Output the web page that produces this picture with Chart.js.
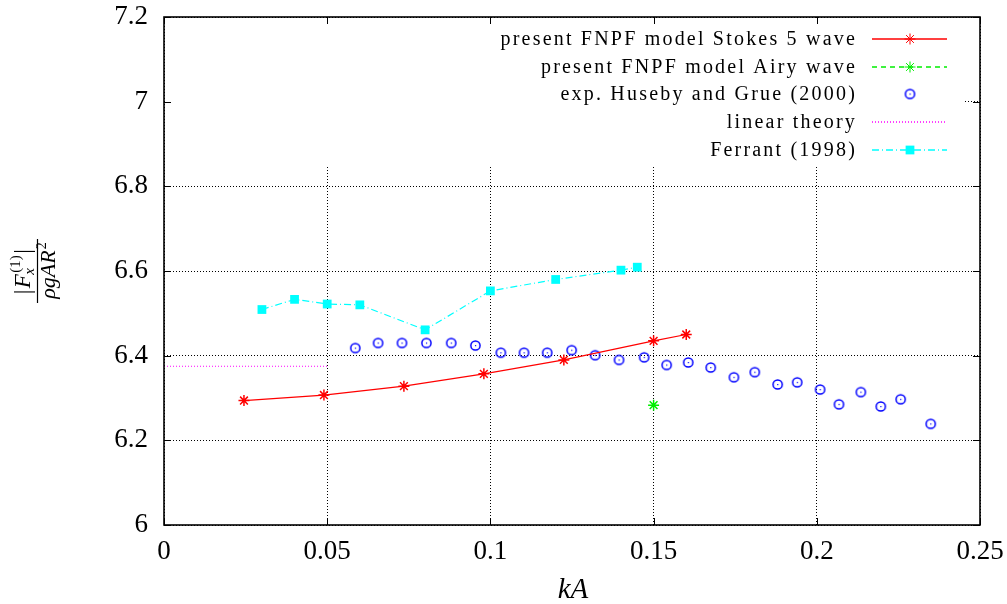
<!DOCTYPE html>
<html>
<head>
<meta charset="utf-8">
<script src="https://cdn.jsdelivr.net/npm/chart.js@4.4.0/dist/chart.umd.min.js"></script>
<style>
  body { margin: 0; background: #fff; }
  #wrap { width: 1007px; height: 604px; }
</style>
</head>
<body>
<div id="wrap"><canvas id="chart" width="1007" height="604"></canvas></div>
<script>
// axis ticks
const xTicks = [0, 0.05, 0.1, 0.15, 0.2, 0.25];
const xTickLabels = ['0', '0.05', '0.1', '0.15', '0.2', '0.25'];
const yTicks = [6, 6.2, 6.4, 6.6, 6.8, 7, 7.2];
const yTickLabels = ['6', '6.2', '6.4', '6.6', '6.8', '7', '7.2'];

// present FNPF model Stokes 5 wave
const stokesKA = [0.0245, 0.049, 0.0735, 0.098, 0.1225, 0.15, 0.16];
const stokesF = [6.294, 6.307, 6.328, 6.357, 6.390, 6.435, 6.450];

// present FNPF model Airy wave
const airyKA = [0.15];
const airyF = [6.283];

// exp. Huseby and Grue (2000)
const husebyKA = [0.0586, 0.0656, 0.0729, 0.0804, 0.0880, 0.0954, 0.1032, 0.1103, 0.1174, 0.1249,
                  0.1321, 0.1394, 0.1471, 0.1540, 0.1606, 0.1675, 0.1746, 0.1810, 0.1880, 0.1940,
                  0.2010, 0.2068, 0.2135, 0.2196, 0.2257, 0.2349];
const husebyF = [6.418, 6.430, 6.430, 6.430, 6.430, 6.424, 6.407, 6.407, 6.407, 6.413,
                 6.401, 6.390, 6.396, 6.378, 6.384, 6.372, 6.349, 6.361, 6.332, 6.337,
                 6.320, 6.285, 6.314, 6.280, 6.297, 6.239];

// linear theory
const linearKA = [0, 0.05];
const linearF = [6.375, 6.375];

// Ferrant (1998)
const ferrantKA = [0.03, 0.04, 0.05, 0.06, 0.08, 0.1, 0.12, 0.14, 0.145];
const ferrantF = [6.509, 6.533, 6.522, 6.520, 6.461, 6.553, 6.580, 6.602, 6.609];

const seriesColors = ['#ff0000', '#00ee00', '#0000ff', '#ff00ff', '#00ffff'];

const toPoints = (xs, ys) => xs.map((x, i) => ({ x, y: ys[i] }));

// gnuplot style circle with a dot in the middle
const circleDot = document.createElement('canvas');
circleDot.width = 13;
circleDot.height = 13;
(() => {
    const c = circleDot.getContext('2d');
    c.strokeStyle = seriesColors[2];
    c.fillStyle = seriesColors[2];
    c.lineWidth = 1.5;
    c.beginPath();
    c.arc(6.5, 6.5, 4.6, 0, Math.PI * 2);
    c.stroke();
    c.fillRect(6, 6, 1.2, 1.2);
})();

const datasets = [
    {
        label: 'present FNPF model Stokes 5 wave',
        data: toPoints(stokesKA, stokesF),
        showLine: true,
        borderColor: seriesColors[0],
        backgroundColor: seriesColors[0],
        borderWidth: 1.2,
        pointStyle: 'star',
        pointRadius: 5.5,
        pointBorderWidth: 1.5
    },
    {
        label: 'present FNPF model Airy wave',
        data: toPoints(airyKA, airyF),
        showLine: true,
        borderColor: seriesColors[1],
        backgroundColor: seriesColors[1],
        borderWidth: 1.2,
        borderDash: [5, 4],
        pointStyle: 'star',
        pointRadius: 5.5,
        pointBorderWidth: 1.5
    },
    {
        label: 'exp. Huseby and Grue (2000)',
        data: toPoints(husebyKA, husebyF),
        showLine: false,
        borderColor: seriesColors[2],
        backgroundColor: seriesColors[2],
        pointStyle: circleDot
    },
    {
        label: 'linear theory',
        data: toPoints(linearKA, linearF),
        showLine: true,
        borderColor: seriesColors[3],
        backgroundColor: seriesColors[3],
        borderWidth: 1,
        borderDash: [1, 2],
        pointRadius: 0
    },
    {
        label: 'Ferrant (1998)',
        data: toPoints(ferrantKA, ferrantF),
        showLine: true,
        borderColor: seriesColors[4],
        backgroundColor: seriesColors[4],
        borderWidth: 1.2,
        borderDash: [7, 3, 1, 3],
        pointStyle: 'rect',
        pointRadius: 6.2,
        pointBorderWidth: 0
    }
];

// white key box, frame, inward ticks, key and axis titles
const gnuplotFrame = {
    id: 'gnuplotFrame',
    afterDatasetsDraw(chart) {
        const ctx = chart.ctx;
        const area = chart.chartArea;
        const xs = chart.scales.x;
        const ys = chart.scales.y;
        ctx.save();

        // key box hides the grid behind it
        ctx.fillStyle = '#fff';
        ctx.fillRect(area.left + 1, area.top + 1, 963 - area.left, 164 - area.top);

        // frame
        ctx.strokeStyle = '#000';
        ctx.lineWidth = 1.6;
        ctx.strokeRect(area.left, area.top, area.right - area.left, area.bottom - area.top);

        // inward ticks on all four sides
        ctx.lineWidth = 1;
        ctx.beginPath();
        xTicks.forEach(v => {
            const px = Math.round(xs.getPixelForValue(v)) + 0.5;
            ctx.moveTo(px, area.bottom); ctx.lineTo(px, area.bottom - 7);
            ctx.moveTo(px, area.top); ctx.lineTo(px, area.top + 7);
        });
        yTicks.forEach(v => {
            const py = Math.round(ys.getPixelForValue(v)) + 0.5;
            ctx.moveTo(area.left, py); ctx.lineTo(area.left + 7, py);
            ctx.moveTo(area.right, py); ctx.lineTo(area.right - 7, py);
        });
        ctx.stroke();

        // key
        const rowY = [39, 67, 94, 122, 150];
        chart.data.datasets.forEach((ds, i) => {
            const y = rowY[i];
            ctx.save();
            ctx.fillStyle = '#000';
            ctx.font = '20px "Liberation Serif"';
            ctx.letterSpacing = '2.2px';
            ctx.textAlign = 'right';
            ctx.textBaseline = 'middle';
            ctx.fillText(ds.label, 857, y + 1);
            ctx.restore();
            if (ds.showLine) {
                ctx.save();
                ctx.strokeStyle = seriesColors[i];
                ctx.lineWidth = 1.5;
                ctx.setLineDash(ds.borderDash || []);
                ctx.beginPath();
                ctx.moveTo(872, y);
                ctx.lineTo(947, y);
                ctx.stroke();
                ctx.restore();
            }
            if (ds.pointRadius !== 0) {
                ctx.save();
                ctx.setLineDash([]);
                ctx.strokeStyle = seriesColors[i];
                ctx.fillStyle = seriesColors[i];
                Chart.helpers.drawPoint(ctx, {
                    pointStyle: ds.pointStyle,
                    rotation: 0,
                    radius: ds.pointRadius || 5,
                    borderWidth: ds.pointBorderWidth === undefined ? 1 : ds.pointBorderWidth
                }, 910, y);
                ctx.restore();
            }
        });

        // x title
        ctx.fillStyle = '#000';
        ctx.textAlign = 'center';
        ctx.textBaseline = 'alphabetic';
        ctx.font = 'italic 29px "Liberation Serif"';
        ctx.fillText('kA', 573, 598);

        // y title: |F_x^(1)| / (rho g A R^2), rotated
        ctx.strokeStyle = '#000';
        ctx.translate(37, 271);
        ctx.rotate(-Math.PI / 2);
        ctx.lineWidth = 1.2;
        ctx.beginPath();
        ctx.moveTo(-32, 0.5);
        ctx.lineTo(32, 0.5);
        ctx.stroke();

        const parts = [
            { t: '|', f: '23px "Liberation Serif"', dy: 0 },
            { t: 'F', f: 'italic 23px "Liberation Serif"', dy: 0 },
            { t: '(1)', f: '15px "Liberation Serif"', dy: -10, sub: 'x' },
            { t: '|', f: '23px "Liberation Serif"', dy: 0 }
        ];
        ctx.textAlign = 'left';
        let w = 0;
        parts.forEach(p => { ctx.font = p.f; p.w = ctx.measureText(p.t).width + 1.5; w += p.w; });
        let cx = -w / 2;
        const baseN = -7;
        parts.forEach(p => {
            ctx.font = p.f;
            ctx.fillText(p.t, cx, baseN + p.dy);
            if (p.sub) {
                ctx.font = 'italic 15px "Liberation Serif"';
                ctx.fillText(p.sub, cx - 2, baseN + 4);
            }
            cx += p.w;
        });

        ctx.font = 'italic 22px "Liberation Serif"';
        const den = '\u03C1gAR';
        const dw = ctx.measureText(den).width;
        ctx.font = '14px "Liberation Serif"';
        const sw = ctx.measureText('2').width;
        const dx = -(dw + sw) / 2;
        ctx.font = 'italic 22px "Liberation Serif"';
        ctx.fillText(den, dx, 18);
        ctx.font = '14px "Liberation Serif"';
        ctx.fillText('2', dx + dw + 1, 9);

        ctx.restore();
    }
};

new Chart(document.getElementById('chart'), {
    type: 'scatter',
    data: { datasets },
    options: {
        responsive: false,
        animation: false,
        events: [],
        layout: { padding: { top: 17, right: 27, left: 0, bottom: 0 } },
        plugins: {
            legend: { display: false },
            tooltip: { enabled: false }
        },
        scales: {
            x: {
                type: 'linear',
                min: 0,
                max: 0.25,
                afterBuildTicks: s => { s.ticks = xTicks.map(v => ({ value: v })); },
                afterFit: s => {
                    s.height = 79;
                    s.paddingLeft = 0;
                    s.paddingRight = 0;
                },
                ticks: {
                    callback: (v, i) => xTickLabels[i],
                    color: '#000',
                    font: { family: 'Liberation Serif', size: 27 },
                    padding: 11,
                    maxRotation: 0
                },
                grid: { color: '#000', lineWidth: 1, drawTicks: false },
                border: { display: false, dash: [1, 2] }
            },
            y: {
                type: 'linear',
                min: 6,
                max: 7.2,
                afterBuildTicks: s => { s.ticks = yTicks.map(v => ({ value: v })); },
                afterFit: s => {
                    s.width = 164;
                    s.paddingTop = 0;
                    s.paddingBottom = 0;
                },
                ticks: {
                    callback: (v, i) => yTickLabels[i],
                    color: '#000',
                    font: { family: 'Liberation Serif', size: 27 },
                    padding: 16
                },
                grid: { color: '#000', lineWidth: 1, drawTicks: false },
                border: { display: false, dash: [1, 2] }
            }
        }
    },
    plugins: [gnuplotFrame]
});
</script>
</body>
</html>
